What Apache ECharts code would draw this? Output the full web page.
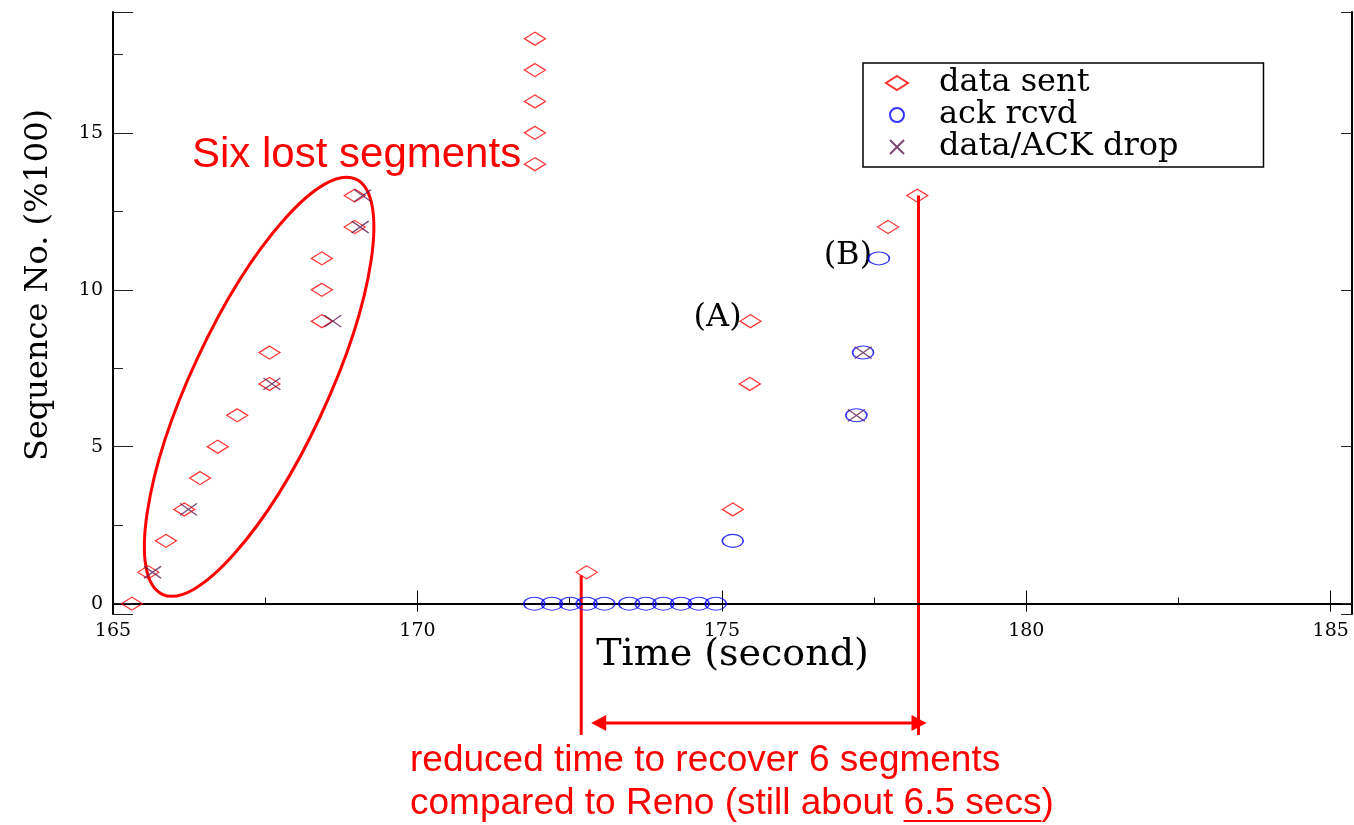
<!DOCTYPE html>
<html>
<head>
<meta charset="utf-8">
<script src="https://cdn.jsdelivr.net/npm/echarts@6/dist/echarts.min.js"></script>
<style>
html, body { margin: 0; padding: 0; background: #fff; }
#main { width: 1354px; height: 825px; }
</style>
</head>
<body>
<div id="main"></div>
<script>
// data sent (diamonds)
var sentTime = [165.31, 165.58, 165.87, 166.17, 166.43, 166.72, 167.04, 167.57, 167.57, 168.43, 168.43, 168.43, 168.97, 168.97,
                171.93, 171.93, 171.93, 171.93, 171.93, 172.78, 175.18, 175.47, 175.46, 177.73, 178.21];
var sentSeq  = [0, 1, 2, 3, 4, 5, 6, 7, 8, 9, 10, 11, 12, 13,
                14, 15, 16, 17, 18, 1, 3, 9, 7, 12, 13];
// ack rcvd (circles)
var ackTime = [171.92, 172.21, 172.51, 172.78, 173.07, 173.48, 173.75, 174.04, 174.33, 174.62, 174.90, 175.18, 177.21, 177.32, 177.58];
var ackSeq  = [0, 0, 0, 0, 0, 0, 0, 0, 0, 0, 0, 2, 6, 8, 11];
// data/ACK drop (crosses)
var dropTime = [165.65, 166.24, 167.61, 168.61, 169.06, 169.10, 177.21, 177.32];
var dropSeq  = [1, 3, 7, 9, 12, 13, 6, 8];

var seriesNames = ['data sent', 'ack rcvd', 'data/ACK drop'];

function pairs(t, s) {
    return t.map(function (v, i) { return [v, s[i]]; });
}

var serif = 'DejaVu Serif';
var sans = 'Liberation Sans';
var RED = '#ff0000';

var chart = echarts.init(document.getElementById('main'));

var tickLabel = { fontFamily: serif, fontSize: 19, color: '#000' };

chart.setOption({
    animation: false,
    backgroundColor: '#fff',
    grid: { left: 113, right: 2, top: 12, bottom: 211 },
    legend: {
        orient: 'vertical',
        left: 863,
        top: 63,
        padding: [4, 85, 4, 22],
        backgroundColor: '#fff',
        borderColor: '#000',
        borderWidth: 1.5,
        itemWidth: 22,
        itemHeight: 14,
        itemGap: 0,
        textStyle: { fontFamily: serif, fontSize: 32, color: '#000', lineHeight: 31, padding: [0, 0, 0, 26] },
        data: seriesNames
    },
    xAxis: [{
        type: 'value', min: 165, max: 185.35, interval: 5,
        name: 'Time (second)', nameLocation: 'middle', nameGap: 22, nameMoveOverlap: false,
        nameTextStyle: { fontFamily: serif, fontSize: 38, color: '#000' },
        axisLine: { lineStyle: { color: '#000', width: 2 } },
        axisTick: { inside: true, length: 13, lineStyle: { color: '#000' } },
        minorTick: { show: true, splitNumber: 2, length: 6, lineStyle: { color: '#000' } },
        axisLabel: Object.assign({ margin: 8, showMaxLabel: false }, tickLabel),
        splitLine: { show: false }
    }, {
        type: 'value', position: 'top', min: 165, max: 185.35, interval: 5,
        axisLine: { lineStyle: { color: '#000', width: 2 } },
        axisTick: { inside: true, length: 8, lineStyle: { color: '#000' } },
        axisLabel: { show: false },
        splitLine: { show: false }
    }],
    yAxis: [{
        type: 'value', min: -0.33, max: 18.85, splitNumber: 4,
        name: 'Sequence No. (%100)', nameLocation: 'middle', nameGap: 58,
        nameTextStyle: { fontFamily: serif, fontSize: 32, color: '#000', padding: [0, 0, 0, 56] },
        axisLine: { lineStyle: { color: '#000', width: 2 } },
        axisTick: { inside: true, length: 20, lineStyle: { color: '#222' } },
        minorTick: { show: true, splitNumber: 2, length: 10, lineStyle: { color: '#222' } },
        axisLabel: Object.assign({
            margin: 10,
            formatter: function (v) { return Math.abs(v % 5) < 1e-9 ? String(v) : ''; }
        }, tickLabel),
        splitLine: { show: false }
    }, {
        type: 'value', position: 'right', min: -0.33, max: 18.85, splitNumber: 4,
        axisLine: { lineStyle: { color: '#000', width: 2 } },
        axisTick: { inside: true, length: 11, lineStyle: { color: '#222' } },
        axisLabel: { show: false },
        splitLine: { show: false }
    }],
    series: [{
        name: 'data sent', type: 'scatter',
        symbol: 'diamond', symbolSize: [21, 13],
        itemStyle: { color: 'rgba(255,255,255,0)', borderColor: RED, borderWidth: 1.3 },
        data: pairs(sentTime, sentSeq)
    }, {
        name: 'ack rcvd', type: 'scatter',
        symbol: 'circle', symbolSize: [21, 13],
        itemStyle: { color: 'rgba(255,255,255,0)', borderColor: '#0000ff', borderWidth: 1.3 },
        data: pairs(ackTime, ackSeq)
    }, {
        name: 'data/ACK drop', type: 'scatter',
        symbol: 'path://M0,0L10,10M10,0L0,10', symbolSize: [17, 12],
        itemStyle: { color: 'rgba(255,255,255,0)', borderColor: '#5c1a52', borderWidth: 1.3 },
        data: pairs(dropTime, dropSeq)
    }]
});

// annotations (positioned from data coordinates)
function px(x, y) { return chart.convertToPixel({ xAxisIndex: 0, yAxisIndex: 0 }, [x, y]); }

var leftLine = 172.69, rightLine = 178.23;
var lTop = px(leftLine, 0.9), rTop = px(rightLine, 13);
var lineBottom = 735, arrowY = 723;
var ell = px(167.40, 6.91);
var labA = px(174.93, 9.1), labB = px(177.07, 11.1);

var ctx = document.createElement('canvas').getContext('2d');
var noteFont = '37px "' + sans + '"';
ctx.font = noteFont;
var line2a = 'compared to Reno (still about ';
var uStart = 410 + ctx.measureText(line2a).width;
var uWidth = ctx.measureText('6.5 secs').width;

var aL = lTop[0] + 10, aR = rTop[0] + 8;

chart.setOption({
    graphic: [
        { type: 'ellipse', x: ell[0], y: ell[1], rotation: 65 * Math.PI / 180,
          shape: { cx: 0, cy: 0, rx: 229, ry: 68 },
          style: { fill: 'none', stroke: RED, lineWidth: 3 } },
        { type: 'text', style: { text: 'Six lost segments', x: 192, y: 155, fill: RED,
          font: '42px "' + sans + '"', verticalAlign: 'middle' } },
        { type: 'text', style: { text: '(A)', x: labA[0], y: labA[1], fill: '#000',
          font: '32px "' + serif + '"', align: 'center', verticalAlign: 'middle' } },
        { type: 'text', style: { text: '(B)', x: labB[0], y: labB[1], fill: '#000',
          font: '32px "' + serif + '"', align: 'center', verticalAlign: 'middle' } },
        { type: 'line', shape: { x1: lTop[0], y1: lTop[1], x2: lTop[0], y2: lineBottom },
          style: { stroke: RED, lineWidth: 3 } },
        { type: 'line', shape: { x1: rTop[0], y1: rTop[1], x2: rTop[0], y2: lineBottom },
          style: { stroke: RED, lineWidth: 3 } },
        { type: 'line', shape: { x1: aL + 10, y1: arrowY, x2: aR - 10, y2: arrowY },
          style: { stroke: RED, lineWidth: 3 } },
        { type: 'polygon', shape: { points: [[aL, arrowY], [aL + 15, arrowY - 8], [aL + 15, arrowY + 8]] },
          style: { fill: RED } },
        { type: 'polygon', shape: { points: [[aR, arrowY], [aR - 15, arrowY - 8], [aR - 15, arrowY + 8]] },
          style: { fill: RED } },
        { type: 'text', style: { text: 'reduced time to recover 6 segments', x: 410, y: 761, fill: RED,
          font: noteFont, verticalAlign: 'middle' } },
        { type: 'text', style: { text: line2a + '6.5 secs)', x: 410, y: 804, fill: RED,
          font: noteFont, verticalAlign: 'middle' } },
        { type: 'line', shape: { x1: uStart, y1: 821, x2: uStart + uWidth, y2: 821 },
          style: { stroke: RED, lineWidth: 2 } }
    ]
});
</script>
</body>
</html>
